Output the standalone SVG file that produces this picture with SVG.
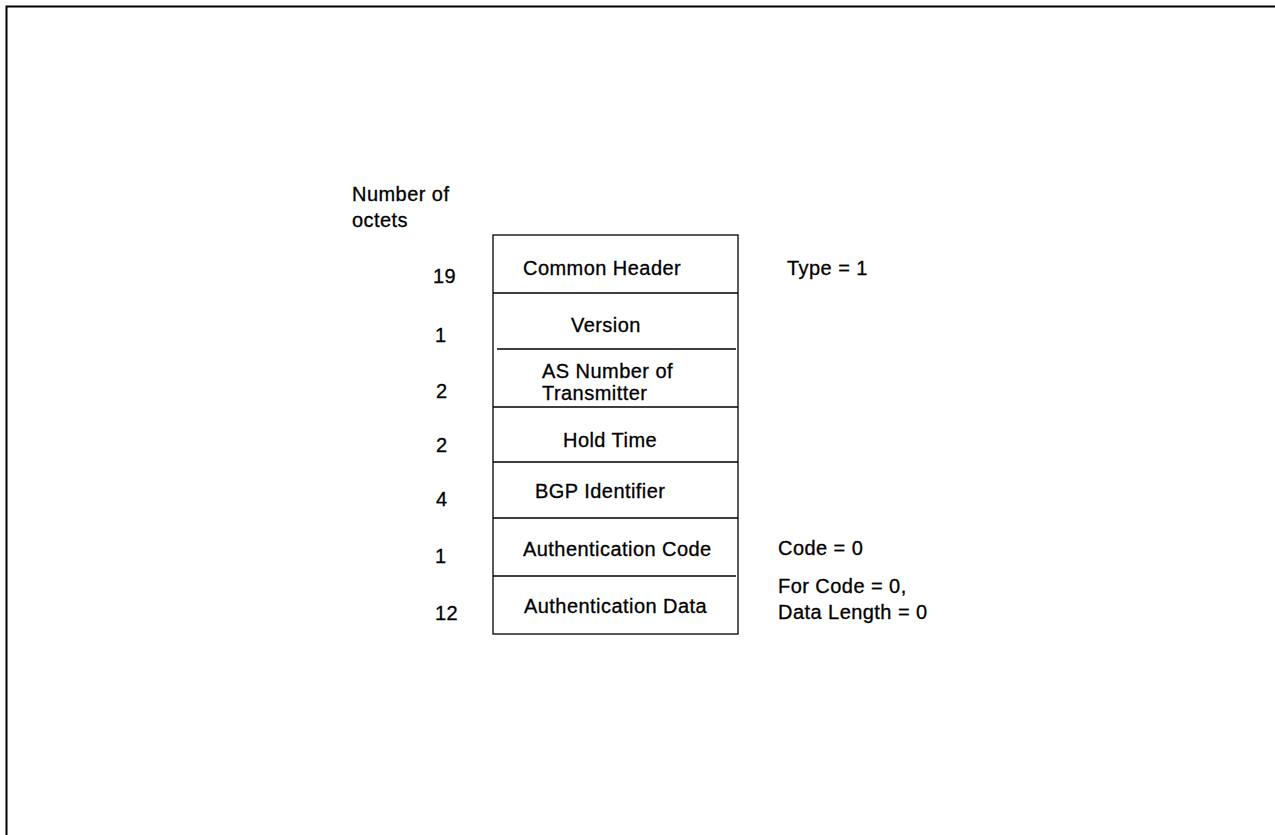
<svg xmlns="http://www.w3.org/2000/svg" width="1275" height="835" viewBox="0 0 1275 835">
<style>
text{font-family:"Liberation Sans",Arial,sans-serif;font-size:20px;fill:#000;stroke:#000;stroke-width:0.3;letter-spacing:0.45px}
.ln{stroke:#000;stroke-width:1.3;fill:none}
</style>
<rect width="1275" height="835" fill="#fff"/>
<g id="frame"><path d="M6.5 835 V6.5 H1275" stroke="#000" stroke-width="2" fill="none"/></g>
<g id="heading"><text x="352" y="201">Number of</text><text x="352" y="227">octets</text></g>
<g id="connectors">
<rect class="ln" x="493" y="235" width="245" height="399"/>
<line class="ln" x1="493" y1="293" x2="738" y2="293"/>
<line class="ln" x1="497" y1="349" x2="736" y2="349"/>
<line class="ln" x1="493" y1="407" x2="738" y2="407"/>
<line class="ln" x1="493" y1="462" x2="738" y2="462"/>
<line class="ln" x1="493" y1="518" x2="738" y2="518"/>
<line class="ln" x1="493" y1="576" x2="736" y2="576"/>
</g>
<g id="f1"><text x="433" y="283">19</text><text x="523" y="275">Common Header</text><text x="787" y="275">Type = 1</text></g>
<g id="f2"><text x="435" y="342">1</text><text x="571" y="332">Version</text></g>
<g id="f3"><text x="436" y="398">2</text><text x="542" y="378">AS Number of</text><text x="542" y="400">Transmitter</text></g>
<g id="f4"><text x="436" y="452">2</text><text x="563" y="447">Hold Time</text></g>
<g id="f5"><text x="436" y="506">4</text><text x="535" y="498">BGP Identifier</text></g>
<g id="f6"><text x="435" y="563">1</text><text x="523" y="556">Authentication Code</text><text x="778" y="555">Code = 0</text></g>
<g id="f7"><text x="435" y="620">12</text><text x="524" y="613">Authentication Data</text><text x="778" y="593">For Code = 0,</text><text x="778" y="619">Data Length = 0</text></g>
</svg>
